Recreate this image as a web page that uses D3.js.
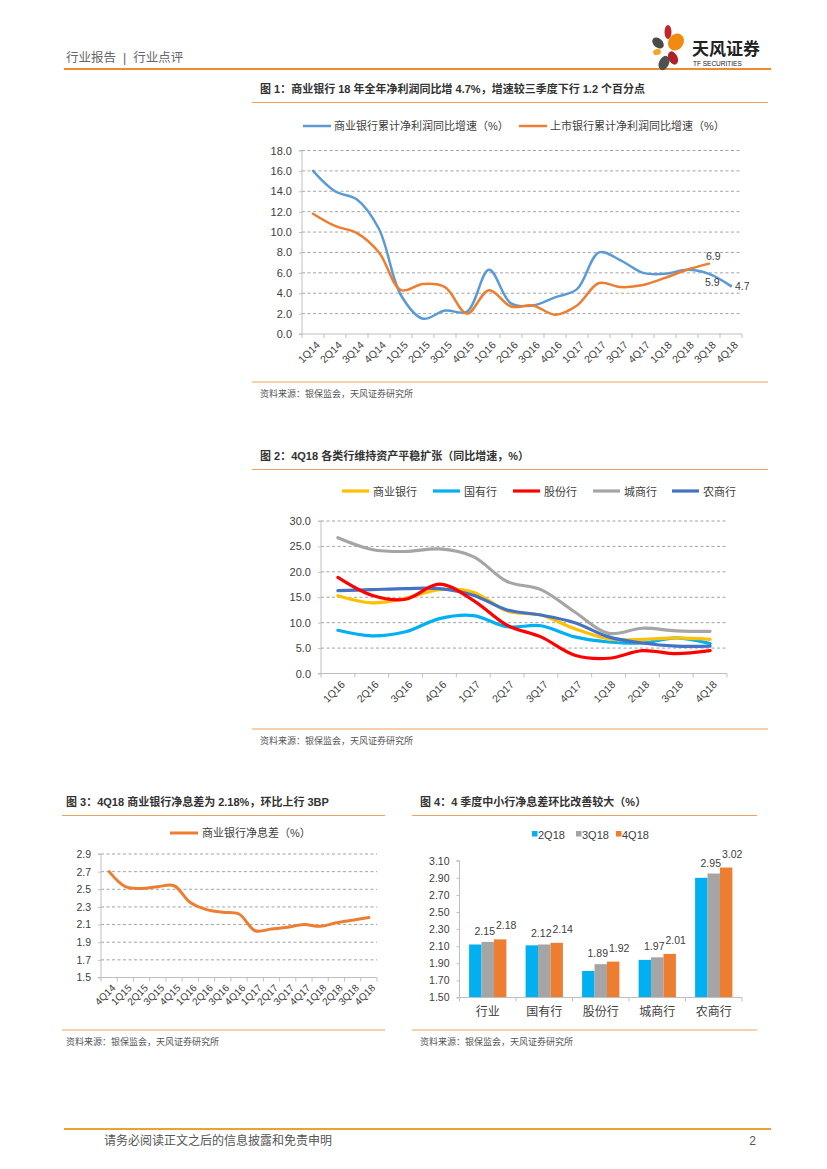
<!DOCTYPE html>
<html><head><meta charset="utf-8">
<script src="https://cdn.jsdelivr.net/npm/d3@7"></script>
<style>
html,body{margin:0;padding:0;background:#fff;}
svg text{font-family:"Liberation Sans","Noto Sans CJK SC",sans-serif;}
</style></head>
<body>
<svg id="page" width="827" height="1169"></svg>
<script>
// ---------- DATA ----------
const q1 = ["1Q14","2Q14","3Q14","4Q14","1Q15","2Q15","3Q15","4Q15","1Q16","2Q16","3Q16","4Q16","1Q17","2Q17","3Q17","4Q17","1Q18","2Q18","3Q18","4Q18"];
const commercialProfit = [16.0,14.0,13.2,10.3,3.8,1.5,2.3,2.2,6.3,3.0,2.8,3.6,4.4,8.0,7.2,6.0,5.9,6.3,5.9,4.7];
const listedProfit = [11.8,10.6,9.9,8.0,4.3,4.9,4.6,2.0,4.3,2.7,2.8,1.9,2.8,5.0,4.6,4.8,5.5,6.3,6.9,null];
const ticks1 = [0,2,4,6,8,10,12,14,16,18];

const q2 = ["1Q16","2Q16","3Q16","4Q16","1Q17","2Q17","3Q17","4Q17","1Q18","2Q18","3Q18","4Q18"];
const seriesNames2 = ["商业银行","国有行","股份行","城商行","农商行"];
const commercialAsset = [15.3,13.9,14.8,16.5,16.0,12.3,11.5,8.8,6.8,6.7,7.0,6.7];
const stateAsset = [8.5,7.4,8.2,10.8,11.4,9.2,9.4,7.2,6.2,6.0,7.0,5.9];
const jointAsset = [18.9,15.4,14.6,17.6,14.4,9.5,7.2,3.6,3.0,4.5,3.9,4.5];
const cityAsset = [26.7,24.4,24.0,24.5,23.0,18.1,16.5,12.1,7.9,8.9,8.4,8.3];
const ruralAsset = [16.3,16.5,16.7,16.7,15.4,12.5,11.5,10.0,7.2,6.0,5.4,5.4];
const ticks2 = [0,5,10,15,20,25,30];

const q3 = ["4Q14","1Q15","2Q15","3Q15","4Q15","1Q16","2Q16","3Q16","4Q16","1Q17","2Q17","3Q17","4Q17","1Q18","2Q18","3Q18","4Q18"];
const nim = [2.70,2.53,2.51,2.53,2.54,2.35,2.27,2.24,2.22,2.03,2.05,2.07,2.10,2.08,2.12,2.15,2.18];
const ticks3 = [1.5,1.7,1.9,2.1,2.3,2.5,2.7,2.9];

const banks4 = ["行业","国有行","股份行","城商行","农商行"];
const quarters4 = ["2Q18","3Q18","4Q18"];
const nim2Q18 = [2.12,2.11,1.81,1.94,2.90];
const nim3Q18 = [2.15,2.12,1.89,1.97,2.95];
const nim4Q18 = [2.18,2.14,1.92,2.01,3.02];
const ticks4 = [1.50,1.70,1.90,2.10,2.30,2.50,2.70,2.90,3.10];

// ---------- PAGE ----------
const svg = d3.select("#page");
const ORANGE_RULE = "#F0A35E";
const TXT = "#404040";

// header
svg.append("text").attr("x",66).attr("y",62).attr("font-size",12.5).attr("fill","#666").attr("xml:space","preserve").text("行业报告  |  行业点评");
svg.append("line").attr("x1",64).attr("x2",771).attr("y1",69).attr("y2",69).attr("stroke","#F08A30").attr("stroke-width",2.2);
// logo
const logo = svg.append("g");
[[668,32,3.5,7,0,"#C0272D"],[658,43,4.5,6.5,-50,"#4A4A4A"],[676,42,7.5,9,35,"#F08A10"],[657,52,4,3,-20,"#F5A623"],[673,58,4.5,7,-25,"#B0202A"],[664,63,5,7.5,25,"#505050"]]
 .forEach(p=>logo.append("ellipse").attr("cx",p[0]).attr("cy",p[1]).attr("rx",p[2]).attr("ry",p[3]).attr("transform",`rotate(${p[4]},${p[0]},${p[1]})`).attr("fill",p[5]));
svg.append("text").attr("x",692).attr("y",55).attr("font-size",17).attr("font-weight","bold").attr("fill","#222").text("天风证券");
svg.append("text").attr("x",693).attr("y",66).attr("font-size",6.5).attr("fill","#222").text("TF SECURITIES");

// footer
svg.append("line").attr("x1",64).attr("x2",771).attr("y1",1129).attr("y2",1129).attr("stroke","#F0A030").attr("stroke-width",2.2);
svg.append("text").attr("x",104).attr("y",1145).attr("font-size",12).attr("fill","#555").text("请务必阅读正文之后的信息披露和免责申明");
svg.append("text").attr("x",756).attr("y",1145).attr("font-size",12).attr("fill","#555").attr("text-anchor","end").text("2");

function titleBlock(x, y, x1, x2, text, srcY){
  svg.append("text").attr("x",x).attr("y",y).attr("font-size",11).attr("font-weight","bold").attr("fill","#333").text(text);
  svg.append("line").attr("x1",x1).attr("x2",x2).attr("y1",y+9.5).attr("y2",y+9.5).attr("stroke",ORANGE_RULE).attr("stroke-width",1.2);
  svg.append("line").attr("x1",x1).attr("x2",x2).attr("y1",srcY-11).attr("y2",srcY-11).attr("stroke",ORANGE_RULE).attr("stroke-width",1.2);
  svg.append("text").attr("x",x).attr("y",srcY+3.5).attr("font-size",9).attr("fill","#555").text("资料来源：银保监会，天风证券研究所");
}

function lineChart(cfg){
  const g = svg.append("g");
  const x = d3.scaleBand().domain(cfg.cats).range([cfg.x0,cfg.x1]);
  const y = d3.scaleLinear().domain([cfg.ticks[0],cfg.ticks[cfg.ticks.length-1]]).range([cfg.y1,cfg.y0]);
  g.selectAll(".grid").data(cfg.ticks.slice(1)).join("line")
    .attr("x1",cfg.x0).attr("x2",cfg.x1).attr("y1",d=>y(d)).attr("y2",d=>y(d))
    .attr("stroke","#8C8C8C").attr("stroke-width",0.8).attr("stroke-dasharray","3,2.5");
  const ya = g.append("g").attr("transform",`translate(${cfg.x0},0)`)
    .call(d3.axisLeft(y).tickValues(cfg.ticks).tickFormat(d3.format(cfg.fmt)).tickSize(3).tickPadding(cfg.yPad||7));
  ya.select(".domain").attr("stroke","#BFBFBF").attr("d",`M-3,${cfg.y1}H0V${cfg.y0}H-3`);
  ya.selectAll(".tick line").attr("stroke","#BFBFBF");
  ya.selectAll("text").attr("font-size",cfg.yFont||11).attr("fill",TXT);
  const xa = g.append("g").attr("transform",`translate(0,${cfg.y1})`)
    .call(d3.axisBottom(x).tickSize(0).tickPadding(0));
  xa.select(".domain").attr("stroke","#BFBFBF").attr("d",`M${cfg.x0},0H${cfg.x1}`);
  xa.selectAll(".tick text").attr("font-size",cfg.xFont||10.5).attr("fill",TXT)
    .attr("text-anchor","end").attr("dy",0)
    .attr("transform",`translate(2,${cfg.xLabOff||6}) rotate(-45)`)
    .attr("dominant-baseline","hanging");
  g.selectAll(".bt").data(d3.range(cfg.cats.length+1)).join("line")
    .attr("x1",i=>cfg.x0+i*x.step()).attr("x2",i=>cfg.x0+i*x.step())
    .attr("y1",cfg.y1).attr("y2",cfg.y1+4).attr("stroke","#BFBFBF");
  const cx = d=>x(d)+x.bandwidth()/2;
  cfg.series.forEach(s=>{
    const line = d3.line().defined(d=>d[1]!=null).x(d=>cx(d[0])).y(d=>y(d[1])).curve(d3.curveCatmullRom.alpha(0.5));
    g.append("path").datum(cfg.cats.map((c,i)=>[c,s.values[i]]))
      .attr("d",line).attr("fill","none").attr("stroke",s.color).attr("stroke-width",s.width||2.5)
      .attr("stroke-linejoin","round").attr("stroke-linecap","round");
  });
  return {x,y,cx,g};
}

// ---------- CHART 1 ----------
titleBlock(260, 93, 252, 768, "图 1：商业银行 18 年全年净利润同比增 4.7%，增速较三季度下行 1.2 个百分点", 393);
const c1 = lineChart({cats:q1,x0:302,x1:742,y0:150.5,y1:334,ticks:ticks1,fmt:".1f",
  series:[{values:commercialProfit,color:"#5B9BD5"},{values:listedProfit,color:"#ED7D31"}]});
[[0,"#5B9BD5","商业银行累计净利润同比增速（%）",303],[1,"#ED7D31","上市银行累计净利润同比增速（%）",519]].forEach(l=>{
  svg.append("line").attr("x1",l[3]).attr("x2",l[3]+28).attr("y1",126).attr("y2",126).attr("stroke",l[1]).attr("stroke-width",2.5);
  svg.append("text").attr("x",l[3]+31).attr("y",130).attr("font-size",11).attr("fill",TXT).text(l[2]);
});
[[listedProfit,18,-3,-4],[commercialProfit,18,-4,12],[commercialProfit,19,4,4]].forEach(a=>{
  const v=a[0][a[1]];
  svg.append("text").attr("x",c1.cx(q1[a[1]])+a[2]).attr("y",c1.y(v)+a[3]).attr("font-size",10.5).attr("fill",TXT).text(v.toFixed(1));
});

// ---------- CHART 2 ----------
titleBlock(260, 460, 252, 768, "图 2：4Q18 各类行维持资产平稳扩张（同比增速，%）", 740);
const colors2 = ["#FFC000","#00B0F0","#FF0000","#A5A5A5","#4472C4"];
const vals2 = [commercialAsset,stateAsset,jointAsset,cityAsset,ruralAsset];
lineChart({cats:q2,x0:321,x1:727,y0:521,y1:673.5,ticks:ticks2,fmt:".1f",
  series:[3,1,0,4,2].map(i=>({values:vals2[i],color:colors2[i],width:3.2}))});
const legX2 = [342,433,513,593,672];
seriesNames2.forEach((n,i)=>{
  svg.append("line").attr("x1",legX2[i]).attr("x2",legX2[i]+27).attr("y1",491).attr("y2",491).attr("stroke",colors2[i]).attr("stroke-width",3.2);
  svg.append("text").attr("x",legX2[i]+31).attr("y",495.5).attr("font-size",11).attr("fill",TXT).text(n);
});

// ---------- CHART 3 ----------
titleBlock(66, 806, 62, 385, "图 3：4Q18 商业银行净息差为 2.18%，环比上行 3BP", 1041);
lineChart({cats:q3,x0:101,x1:377,y0:854,y1:977.5,ticks:ticks3,fmt:".1f",xFont:10,yFont:10.5,
  series:[{values:nim,color:"#ED7D31",width:3}]});
svg.append("line").attr("x1",170).attr("x2",198).attr("y1",833).attr("y2",833).attr("stroke","#ED7D31").attr("stroke-width",3);
svg.append("text").attr("x",202).attr("y",837).attr("font-size",11).attr("fill",TXT).text("商业银行净息差（%）");

// ---------- CHART 4 ----------
titleBlock(420, 806, 412, 757, "图 4：4 季度中小行净息差环比改善较大（%）", 1041);
{
  const g = svg.append("g");
  const x0=459.5, x1=742, y0=860.7, y1=997.5;
  const x = d3.scaleBand().domain(banks4).range([x0,x1]).paddingInner(0.34).paddingOuter(0.17);
  const xs = d3.scaleBand().domain(quarters4).range([0,x.bandwidth()]);
  const y = d3.scaleLinear().domain([1.5,3.1]).range([y1,y0]);
  const cols = ["#00B0F0","#A5A5A5","#ED7D31"];
  const vals = [nim2Q18,nim3Q18,nim4Q18];
  quarters4.forEach((q,qi)=>{
    g.selectAll(".b"+qi).data(banks4).join("rect")
      .attr("x",d=>x(d)+xs(q)).attr("width",xs.bandwidth())
      .attr("y",(d,i)=>y(vals[qi][i])).attr("height",(d,i)=>y1-y(vals[qi][i]))
      .attr("fill",cols[qi]);
    if(qi>0){
      g.selectAll(".l"+qi).data(banks4).join("text")
        .attr("x",d=>x(d)+xs(q)+xs.bandwidth()/2+(qi===2?6:-3))
        .attr("y",(d,i)=>y(vals[qi][i])-(qi===2?10:7))
        .attr("text-anchor","middle").attr("font-size",10.5).attr("fill",TXT)
        .text((d,i)=>vals[qi][i].toFixed(2));
    }
  });
  const ya = g.append("g").attr("transform",`translate(${x0},0)`)
    .call(d3.axisLeft(y).tickValues(ticks4).tickFormat(d3.format(".2f")).tickSize(3).tickPadding(7));
  ya.select(".domain").attr("stroke","#BFBFBF").attr("d",`M-3,${y1}H0V${y0}H-3`);
  ya.selectAll(".tick line").attr("stroke","#BFBFBF");
  ya.selectAll("text").attr("font-size",10.5).attr("fill",TXT);
  const xa = g.append("g").attr("transform",`translate(0,${y1})`).call(d3.axisBottom(x).tickSize(0).tickPadding(10));
  xa.select(".domain").attr("stroke","#BFBFBF").attr("d",`M${x0},0H${x1}`);
  xa.selectAll("text").attr("font-size",12).attr("fill",TXT);
  g.selectAll(".bt").data(d3.range(banks4.length+1)).join("line")
    .attr("x1",i=>x0+i*x.step()).attr("x2",i=>x0+i*x.step()).attr("y1",y1).attr("y2",y1+4).attr("stroke","#BFBFBF");
  const legX4=[532,576,616];
  quarters4.forEach((q,i)=>{
    svg.append("rect").attr("x",legX4[i]).attr("y",831).attr("width",5.5).attr("height",5.5).attr("fill",cols[i]);
    svg.append("text").attr("x",legX4[i]+6).attr("y",838.5).attr("font-size",11).attr("fill",TXT).text(q);
  });
}
</script>
</body></html>
